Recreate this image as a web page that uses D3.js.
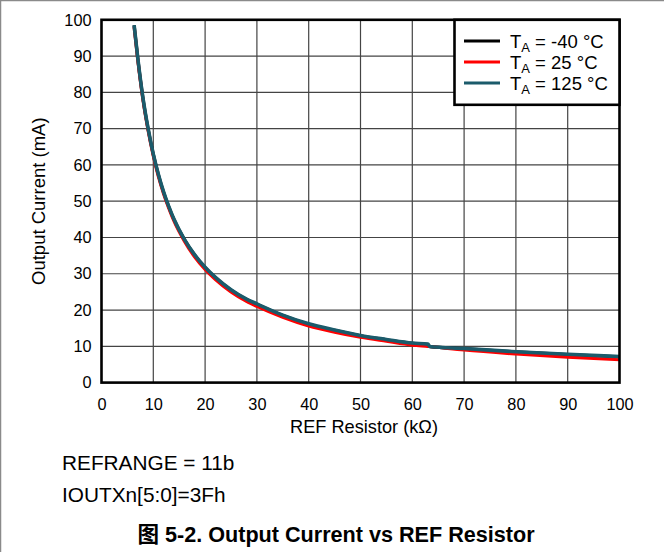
<!DOCTYPE html>
<html><head><meta charset="utf-8">
<script src="https://cdn.jsdelivr.net/npm/d3@7"></script>
<style>
body{margin:0;background:#fff;}
svg{display:block;font-family:"Liberation Sans",Arial,"Noto Sans CJK SC",sans-serif;}
</style></head>
<body><svg id="c" width="664" height="552"></svg>
<script>
const resistor = [6.3, 7, 8, 9, 10, 11, 12, 13, 14, 16, 18, 20, 22, 25, 28, 30, 35, 40, 45, 50, 55, 60, 63, 63.4, 70, 80, 90, 100];
const iMinus40 = [98.5, 89.4, 78.4, 69.9, 62.9, 57.2, 52.4, 48.4, 44.9, 39.4, 35.1, 31.7, 28.9, 25.5, 22.9, 21.6, 18.5, 16.1, 14.4, 12.9, 11.8, 10.8, 10.5, 9.9, 9.35, 8.45, 7.75, 7.1];
const i25 = [98, 89, 78, 69.5, 62.5, 56.7, 52, 48, 44.5, 39, 34.6, 31.2, 28.4, 25, 22.4, 21, 18, 15.6, 13.9, 12.5, 11.4, 10.35, 10.0, 9.95, 9.0, 7.9, 7.0, 6.3];
const i125 = [98.5, 89.5, 78.5, 70, 63, 57.3, 52.5, 48.5, 45, 39.5, 35.2, 31.8, 29, 25.6, 23, 21.7, 18.6, 16.2, 14.5, 13.0, 11.9, 10.9, 10.6, 9.95, 9.4, 8.5, 7.8, 7.2];
const xTicks = [0, 10, 20, 30, 40, 50, 60, 70, 80, 90, 100];
const yTicks = [0, 10, 20, 30, 40, 50, 60, 70, 80, 90, 100];
const seriesNames = ["-40 °C", "25 °C", "125 °C"];
const seriesColors = ["#000000", "#ff0000", "#1b5b6b"];
const seriesData = [iMinus40, i25, i125];
const notes = ["REFRANGE = 11b", "IOUTXn[5:0]=3Fh"];
const title = "图 5-2. Output Current vs REF Resistor";

const svg = d3.select("#c");
const L = 101.5, R = 619.5, T = 19.8, B = 382.6;
const x = d3.scaleLinear().domain([0, 100]).range([L, R]);
const y = d3.scaleLinear().domain([0, 100]).range([B, T]);

// outer border (top & left)
svg.append("line").attr("x1",0.5).attr("y1",0).attr("x2",0.5).attr("y2",552).attr("stroke","#8a8a8a").attr("stroke-width",1.5);
svg.append("line").attr("x1",0).attr("y1",0.5).attr("x2",664).attr("y2",0.5).attr("stroke","#8a8a8a").attr("stroke-width",1.5);

// grid
const g = svg.append("g");
g.selectAll(".vg").data(xTicks.slice(1,-1)).enter().append("line")
  .attr("x1", d=>x(d)).attr("x2", d=>x(d)).attr("y1", T).attr("y2", B)
  .attr("stroke", "#444").attr("stroke-width", 1.2);
g.selectAll(".hg").data(yTicks.slice(1,-1)).enter().append("line")
  .attr("y1", d=>y(d)).attr("y2", d=>y(d)).attr("x1", L).attr("x2", R)
  .attr("stroke", "#444").attr("stroke-width", 1.2);

// axes via d3 axis (labels only)
const xAxis = svg.append("g").attr("transform", `translate(0,${B})`)
  .call(d3.axisBottom(x).tickValues(xTicks).tickSize(0).tickPadding(16));
const yAxis = svg.append("g").attr("transform", `translate(${L},0)`)
  .call(d3.axisLeft(y).tickValues(yTicks).tickSize(0).tickPadding(10));
[xAxis, yAxis].forEach(a => {
  a.select(".domain").remove();
  a.selectAll("text").attr("font-size", 16.3).attr("fill", "#000")
    .attr("font-family", '"Liberation Sans",Arial,sans-serif');
});

// curves
const line = d3.line().x((d,i)=>x(resistor[i])).y(d=>y(d)).curve(d3.curveMonotoneX);
const clip = svg.append("clipPath").attr("id","pc").append("rect")
  .attr("x", L).attr("y", T).attr("width", R-L).attr("height", B-T);
seriesData.forEach((s, k) => {
  svg.append("path").datum(s).attr("d", line).attr("fill","none")
    .attr("stroke", seriesColors[k]).attr("stroke-width", k===2 ? 3.6 : 3.2)
    .attr("stroke-linejoin","round").attr("clip-path","url(#pc)");
});

// frame
svg.append("rect").attr("x", L).attr("y", T).attr("width", R-L).attr("height", B-T)
  .attr("fill","none").attr("stroke","#000").attr("stroke-width", 2.6);

// legend
const lg = svg.append("g");
lg.append("rect").attr("x", 454.5).attr("y", T).attr("width", R-454.5).attr("height", 85)
  .attr("fill","#fff").attr("stroke","#000").attr("stroke-width", 2.6);
seriesNames.forEach((n, k) => {
  const yy = 41 + k*21;
  lg.append("line").attr("x1", 464).attr("x2", 500).attr("y1", yy).attr("y2", yy)
    .attr("stroke", seriesColors[k]).attr("stroke-width", 3);
  const t = lg.append("text").attr("x", 510).attr("y", yy + 6.5).attr("font-size", 18.5).attr("fill","#000");
  t.append("tspan").text("T");
  t.append("tspan").attr("font-size", 13).attr("dy", 4).text("A");
  t.append("tspan").attr("dy", -4).text(" = " + n);
});

// axis titles
svg.append("text").attr("x", 364).attr("y", 433).attr("text-anchor","middle")
  .attr("font-size", 18.2).attr("fill","#000").text("REF Resistor (kΩ)");
svg.append("text").attr("transform", `translate(44.5,${(T+B)/2}) rotate(-90)`).attr("text-anchor","middle")
  .attr("font-size", 18.5).attr("fill","#000").text("Output Current (mA)");

// notes
notes.forEach((n, k) => {
  svg.append("text").attr("x", 62).attr("y", 470 + k*31.5).attr("font-size", 20.8)
    .attr("fill","#000").text(n);
});
svg.append("text").attr("x", 336).attr("y", 541.5).attr("text-anchor","middle")
  .attr("font-size", 21.6).attr("font-weight","bold").attr("fill","#000").text(title);
</script></body></html>
